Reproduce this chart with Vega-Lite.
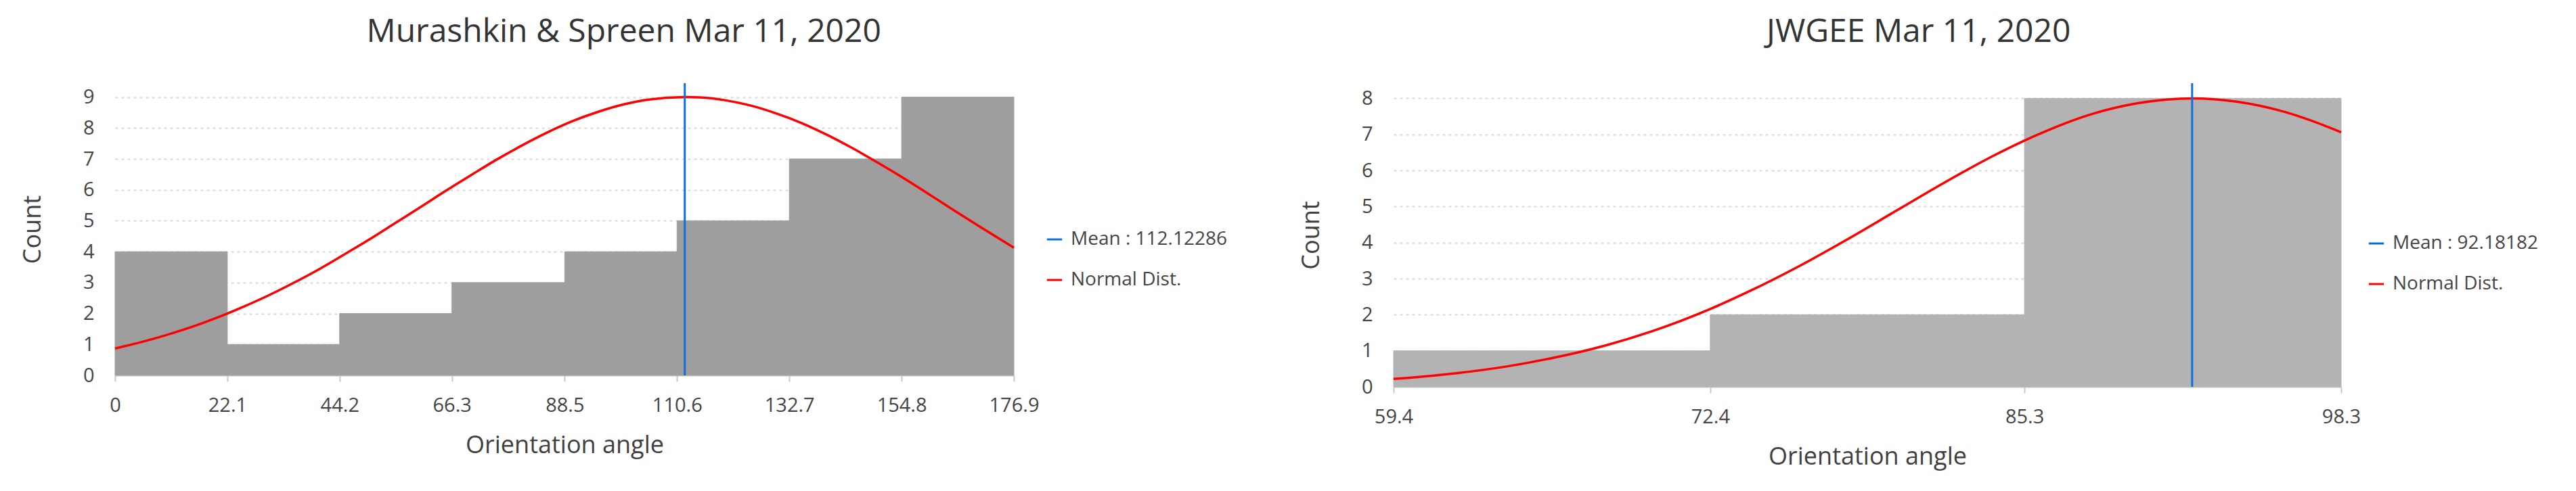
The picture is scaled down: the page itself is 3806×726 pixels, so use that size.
{
  "$schema": "https://vega.github.io/schema/vega-lite/v6.json",
  "background": "white",
  "padding": {"left": 30, "top": 23, "right": 30, "bottom": 30},
  "bounds": "flush",
  "spacing": 561,
  "datasets": {
    "msBins": [
      {"start": 0, "end": 22.1, "count": 4},
      {"start": 22.1, "end": 44.2, "count": 1},
      {"start": 44.2, "end": 66.3, "count": 2},
      {"start": 66.3, "end": 88.5, "count": 3},
      {"start": 88.5, "end": 110.6, "count": 4},
      {"start": 110.6, "end": 132.7, "count": 5},
      {"start": 132.7, "end": 154.8, "count": 7},
      {"start": 154.8, "end": 176.9, "count": 9}
    ],
    "msNormal": [
      {"angle": 0, "count": 0.87}, {"angle": 5, "count": 1.07}, {"angle": 10, "count": 1.30},
      {"angle": 15, "count": 1.56}, {"angle": 20, "count": 1.86}, {"angle": 25, "count": 2.20},
      {"angle": 30, "count": 2.57}, {"angle": 35, "count": 2.98}, {"angle": 40, "count": 3.42},
      {"angle": 45, "count": 3.90}, {"angle": 50, "count": 4.39}, {"angle": 55, "count": 4.91},
      {"angle": 60, "count": 5.43}, {"angle": 65, "count": 5.96}, {"angle": 70, "count": 6.47},
      {"angle": 75, "count": 6.97}, {"angle": 80, "count": 7.43}, {"angle": 85, "count": 7.85},
      {"angle": 90, "count": 8.22}, {"angle": 95, "count": 8.52}, {"angle": 100, "count": 8.76},
      {"angle": 105, "count": 8.92}, {"angle": 112.12, "count": 9.0}, {"angle": 115, "count": 8.99},
      {"angle": 120, "count": 8.90}, {"angle": 125, "count": 8.73}, {"angle": 130, "count": 8.48},
      {"angle": 135, "count": 8.17}, {"angle": 140, "count": 7.79}, {"angle": 145, "count": 7.36},
      {"angle": 150, "count": 6.89}, {"angle": 155, "count": 6.40}, {"angle": 160, "count": 5.88},
      {"angle": 165, "count": 5.35}, {"angle": 170, "count": 4.83}, {"angle": 176.9, "count": 4.13}
    ],
    "msMean": [{"mean": 112.12286}],
    "jwBins": [
      {"start": 59.4, "end": 72.4, "count": 1},
      {"start": 72.4, "end": 85.3, "count": 2},
      {"start": 85.3, "end": 98.3, "count": 8}
    ],
    "jwNormal": [
      {"angle": 59.4, "count": 0.22}, {"angle": 60, "count": 0.25}, {"angle": 62, "count": 0.38},
      {"angle": 64, "count": 0.56}, {"angle": 66, "count": 0.81}, {"angle": 68, "count": 1.13},
      {"angle": 70, "count": 1.54}, {"angle": 72.4, "count": 2.16}, {"angle": 74, "count": 2.65},
      {"angle": 76, "count": 3.33}, {"angle": 78, "count": 4.08}, {"angle": 80, "count": 4.87},
      {"angle": 82, "count": 5.66}, {"angle": 84, "count": 6.40}, {"angle": 85.3, "count": 6.83},
      {"angle": 86, "count": 7.04}, {"angle": 88, "count": 7.55}, {"angle": 90, "count": 7.87},
      {"angle": 92.18, "count": 8.0}, {"angle": 94, "count": 7.91}, {"angle": 96, "count": 7.62},
      {"angle": 97, "count": 7.40}, {"angle": 98.3, "count": 7.06}
    ],
    "jwMean": [{"mean": 92.18182}]
  },
  "hconcat": [
    {
      "title": "Murashkin & Spreen Mar 11, 2020",
      "width": 1328,
      "height": 432,
      "layer": [
        {
          "data": {"name": "msBins"},
          "mark": {"type": "rect", "color": "#9e9e9e", "stroke": "#9e9e9e", "strokeWidth": 1},
          "encoding": {
            "x": {
              "field": "start", "type": "quantitative", "title": "Orientation angle",
              "scale": {"domain": [0, 176.9], "nice": false, "zero": false},
              "axis": {"values": [0, 22.1, 44.2, 66.3, 88.5, 110.6, 132.7, 154.8, 176.9], "format": ".1~f"}
            },
            "x2": {"field": "end"},
            "y": {
              "field": "count", "type": "quantitative", "title": "Count",
              "scale": {"domain": [0, 9.45], "nice": false},
              "axis": {"values": [0, 1, 2, 3, 4, 5, 6, 7, 8, 9], "format": "d"}
            }
          }
        },
        {
          "data": {"name": "msNormal"},
          "mark": {"type": "line", "strokeWidth": 3.5, "interpolate": "monotone"},
          "encoding": {
            "x": {"field": "angle", "type": "quantitative"},
            "y": {"field": "count", "type": "quantitative"},
            "color": {
              "datum": "Normal Dist.",
              "scale": {"domain": ["Mean : 112.12286", "Normal Dist."], "range": ["#0f6fde", "#ff0000"]},
              "legend": {"orient": "none", "legendX": 1374, "legendY": 217}
            }
          }
        },
        {
          "data": {"name": "msMean"},
          "mark": {"type": "rule", "strokeWidth": 3},
          "encoding": {
            "x": {"field": "mean", "type": "quantitative"},
            "color": {"datum": "Mean : 112.12286"}
          }
        }
      ]
    },
    {
      "title": "JWGEE Mar 11, 2020",
      "width": 1400,
      "height": 449,
      "layer": [
        {
          "data": {"name": "jwBins"},
          "mark": {"type": "rect", "color": "#b3b3b3", "stroke": "#b3b3b3", "strokeWidth": 1},
          "encoding": {
            "x": {
              "field": "start", "type": "quantitative", "title": "Orientation angle",
              "scale": {"domain": [59.4, 98.3], "nice": false, "zero": false},
              "axis": {"values": [59.4, 72.4, 85.3, 98.3], "format": ".1f"}
            },
            "x2": {"field": "end"},
            "y": {
              "field": "count", "type": "quantitative", "title": "Count",
              "scale": {"domain": [0, 8.42], "nice": false},
              "axis": {"values": [0, 1, 2, 3, 4, 5, 6, 7, 8], "format": "d"}
            }
          }
        },
        {
          "data": {"name": "jwNormal"},
          "mark": {"type": "line", "strokeWidth": 3.5, "interpolate": "monotone"},
          "encoding": {
            "x": {"field": "angle", "type": "quantitative"},
            "y": {"field": "count", "type": "quantitative"},
            "color": {
              "datum": "Normal Dist.",
              "scale": {"domain": ["Mean : 92.18182", "Normal Dist."], "range": ["#0f6fde", "#ff0000"]},
              "legend": {"orient": "none", "legendX": 1438, "legendY": 223}
            }
          }
        },
        {
          "data": {"name": "jwMean"},
          "mark": {"type": "rule", "strokeWidth": 3},
          "encoding": {
            "x": {"field": "mean", "type": "quantitative"},
            "color": {"datum": "Mean : 92.18182"}
          }
        }
      ]
    }
  ],
  "resolve": {
    "scale": {"x": "independent", "y": "independent", "color": "independent"},
    "legend": {"color": "independent"}
  },
  "config": {
    "view": {"stroke": null},
    "font": "Open Sans",
    "title": {"font": "Open Sans", "fontSize": 48, "fontWeight": "normal", "color": "#333333", "anchor": "middle", "frame": "bounds", "offset": 50},
    "axis": {
      "labelFont": "Open Sans", "titleFont": "Open Sans",
      "labelFontSize": 29, "titleFontSize": 36,
      "labelColor": "#444444", "titleColor": "#404040", "titleFontWeight": "normal",
      "labelFlush": false, "labelOverlap": false
    },
    "axisY": {
      "domain": false, "ticks": false, "tickSize": 0, "grid": true,
      "gridColor": "#d9d9d9", "gridDash": [4, 5], "gridWidth": 2,
      "labelPadding": 31, "titlePadding": 55
    },
    "axisX": {
      "grid": false, "domainColor": "#d0d0d0", "domainWidth": 2,
      "tickColor": "#c8c8c8", "tickWidth": 2, "tickSize": 9,
      "labelPadding": 21, "titlePadding": 27
    },
    "legend": {
      "title": null, "symbolType": "stroke", "symbolStrokeWidth": 3, "symbolSize": 500,
      "labelFont": "Open Sans", "labelFontSize": 28, "labelColor": "#444444",
      "labelOffset": 10, "labelLimit": 0, "rowPadding": 32, "padding": 0
    }
  }
}
